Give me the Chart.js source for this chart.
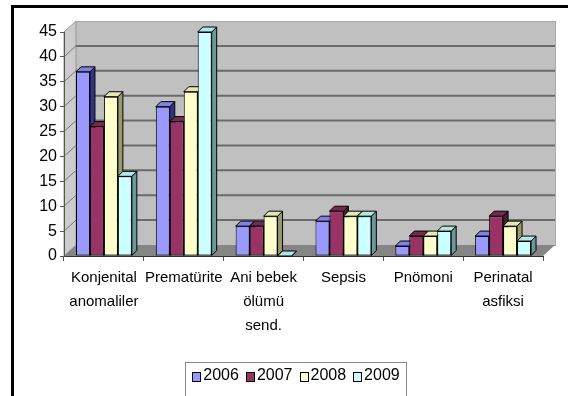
<!DOCTYPE html>
<html>
<head>
<meta charset="utf-8">
<script src="https://cdn.jsdelivr.net/npm/chart.js@4/dist/chart.umd.min.js"></script>
<style>
  body { margin: 0; background: #fff; font-family: "Liberation Sans", Arial, sans-serif; }
  #wrap { position: relative; width: 568px; height: 396px; overflow: hidden; }
  #frame { position: absolute; left: 11px; top: 5px; width: 600px; height: 500px;
           border-left: 3px solid #000; border-top: 3px solid #000; }
  #chart { position: absolute; left: 0; top: 0; }
  #legend { position: absolute; left: 185px; top: 362px; width: 222px; height: 50px;
            border: 1px solid #888; display: flex; justify-content: center; gap: 7px;
            padding-top: 2px; box-sizing: border-box; font-size: 16px; color: #000; }
  #legend span.item { display: flex; align-items: flex-start; height: 20px; line-height: 20px; }
  #legend span.sw { display: inline-block; width: 7px; height: 8px; border: 1px solid #000;
                    margin: 7px 2px 0 0; }
</style>
</head>
<body>
<div id="wrap">
  <div id="frame"></div>
  <canvas id="chart" width="568" height="396"></canvas>
  <div id="legend"></div>
</div>
<script>
// data
const categories = [['Konjenital', 'anomaliler'], 'Prematürite', ['Ani bebek', 'ölümü', 'send.'], 'Sepsis', 'Pnömoni', ['Perinatal', 'asfiksi']];
const years = ['2006', '2007', '2008', '2009'];
const values2006 = [37, 30, 6, 7, 2, 4];
const values2007 = [26, 27, 6, 9, 4, 8];
const values2008 = [32, 33, 8, 8, 4, 6];
const values2009 = [16, 45, 0, 8, 5, 3];
const yMax = 45;
const yStep = 5;

const fronts = ['#9999ff', '#993366', '#ffffcc', '#ccffff'];
const tops = ['#8080e6', '#7a2850', '#e6e6b4', '#b4e6e6'];
const sides = ['#333388', '#4a1a30', '#99996b', '#6b9999'];

const DX = 12, DY = 11;   // wall depth
const BD = 5;             // bar depth

// 3D look: walls, floor, bar sides and tops
const depthPlugin = {
    id: 'depth',
    beforeDraw(chart) {
        const { ctx, chartArea: a, scales: { y } } = chart;
        const y0 = y.getPixelForValue(0);
        const yT = y.getPixelForValue(yMax);
        ctx.save();
        // left wall
        ctx.fillStyle = '#cccccc';
        ctx.beginPath();
        ctx.moveTo(a.left, y0); ctx.lineTo(a.left, yT);
        ctx.lineTo(a.left + DX, yT - DY); ctx.lineTo(a.left + DX, y0 - DY);
        ctx.closePath(); ctx.fill();
        ctx.strokeStyle = '#999'; ctx.lineWidth = 1; ctx.stroke();
        // back wall
        ctx.fillStyle = '#c0c0c0';
        ctx.fillRect(a.left + DX, yT - DY, a.right - a.left, y0 - yT);
        ctx.strokeStyle = '#aaa';
        ctx.strokeRect(a.left + DX + 0.5, yT - DY + 0.5, a.right - a.left, y0 - yT);
        // floor
        ctx.fillStyle = '#858585';
        ctx.beginPath();
        ctx.moveTo(a.left, y0); ctx.lineTo(a.right, y0);
        ctx.lineTo(a.right + DX, y0 - DY); ctx.lineTo(a.left + DX, y0 - DY);
        ctx.closePath(); ctx.fill();
        // grid lines
        y.ticks.forEach(t => {
            if (t.value <= 0 || t.value >= yMax) return;
            const yy = y.getPixelForValue(t.value);
            ctx.strokeStyle = '#777';
            ctx.lineWidth = 1;
            ctx.beginPath(); ctx.moveTo(a.left, yy); ctx.lineTo(a.left + DX, yy - DY); ctx.stroke();
            ctx.lineWidth = 2;
            ctx.strokeStyle = '#6a6a6a';
            ctx.beginPath(); ctx.moveTo(a.left + DX, yy - DY); ctx.lineTo(a.right + DX, yy - DY); ctx.stroke();
        });
        ctx.restore();
    },
    beforeDatasetsDraw(chart) {
        const { ctx } = chart;
        const bars = [];
        chart.data.datasets.forEach((ds, i) => {
            chart.getDatasetMeta(i).data.forEach(el => {
                const p = el.getProps(['x', 'y', 'base', 'width'], true);
                bars.push({ i, l: p.x - p.width / 2, r: p.x + p.width / 2, t: p.y, b: p.base });
            });
        });
        ctx.save();
        ctx.lineWidth = 1;
        ctx.strokeStyle = '#000';
        ctx.lineJoin = 'round';
        bars.forEach(b => {
            ctx.fillStyle = sides[b.i];
            ctx.beginPath();
            ctx.moveTo(b.r, b.t); ctx.lineTo(b.r + BD, b.t - BD);
            ctx.lineTo(b.r + BD, b.b - BD); ctx.lineTo(b.r, b.b);
            ctx.closePath(); ctx.fill(); ctx.stroke();
        });
        bars.forEach(b => {
            ctx.fillStyle = tops[b.i];
            ctx.beginPath();
            ctx.moveTo(b.l, b.t); ctx.lineTo(b.r, b.t);
            ctx.lineTo(b.r + BD, b.t - BD); ctx.lineTo(b.l + BD, b.t - BD);
            ctx.closePath(); ctx.fill(); ctx.stroke();
        });
        ctx.restore();
    }
};

const seriesValues = [values2006, values2007, values2008, values2009];
const xFont = { family: '"Liberation Sans", Arial, sans-serif', size: 15, lineHeight: 1.6 };
const yFont = { family: '"Liberation Sans", Arial, sans-serif', size: 16 };

new Chart(document.getElementById('chart'), {
    type: 'bar',
    data: {
        labels: categories,
        datasets: years.map((yr, i) => ({
            label: yr,
            data: seriesValues[i],
            backgroundColor: fronts[i],
            borderColor: '#000',
            borderWidth: 1,
            borderSkipped: false,
            categoryPercentage: 0.7,
            barPercentage: 1.0
        }))
    },
    options: {
        responsive: false,
        animation: false,
        layout: { padding: { top: 32, right: 25, left: 0, bottom: 0 } },
        plugins: {
            legend: { display: false },
            tooltip: { enabled: false }
        },
        scales: {
            x: {
                grid: { offset: true, drawOnChartArea: false, tickLength: 5, color: '#555' },
                border: { color: '#333' },
                ticks: { font: xFont, color: '#000', padding: 5, maxRotation: 0, autoSkip: false },
                afterFit(s) { s.height = 140; }
            },
            y: {
                min: 0,
                max: yMax,
                ticks: { stepSize: yStep, font: yFont, color: '#000', padding: 3 },
                grid: { drawOnChartArea: false, tickLength: 4, color: '#555' },
                border: { color: '#555' },
                afterFit(s) { s.width = 64; }
            }
        }
    },
    plugins: [depthPlugin]
});

// legend
const legend = document.getElementById('legend');
years.forEach((yr, i) => {
    const item = document.createElement('span');
    item.className = 'item';
    const sw = document.createElement('span');
    sw.className = 'sw';
    sw.style.background = fronts[i];
    item.appendChild(sw);
    item.appendChild(document.createTextNode(yr));
    legend.appendChild(item);
});
</script>
</body>
</html>
